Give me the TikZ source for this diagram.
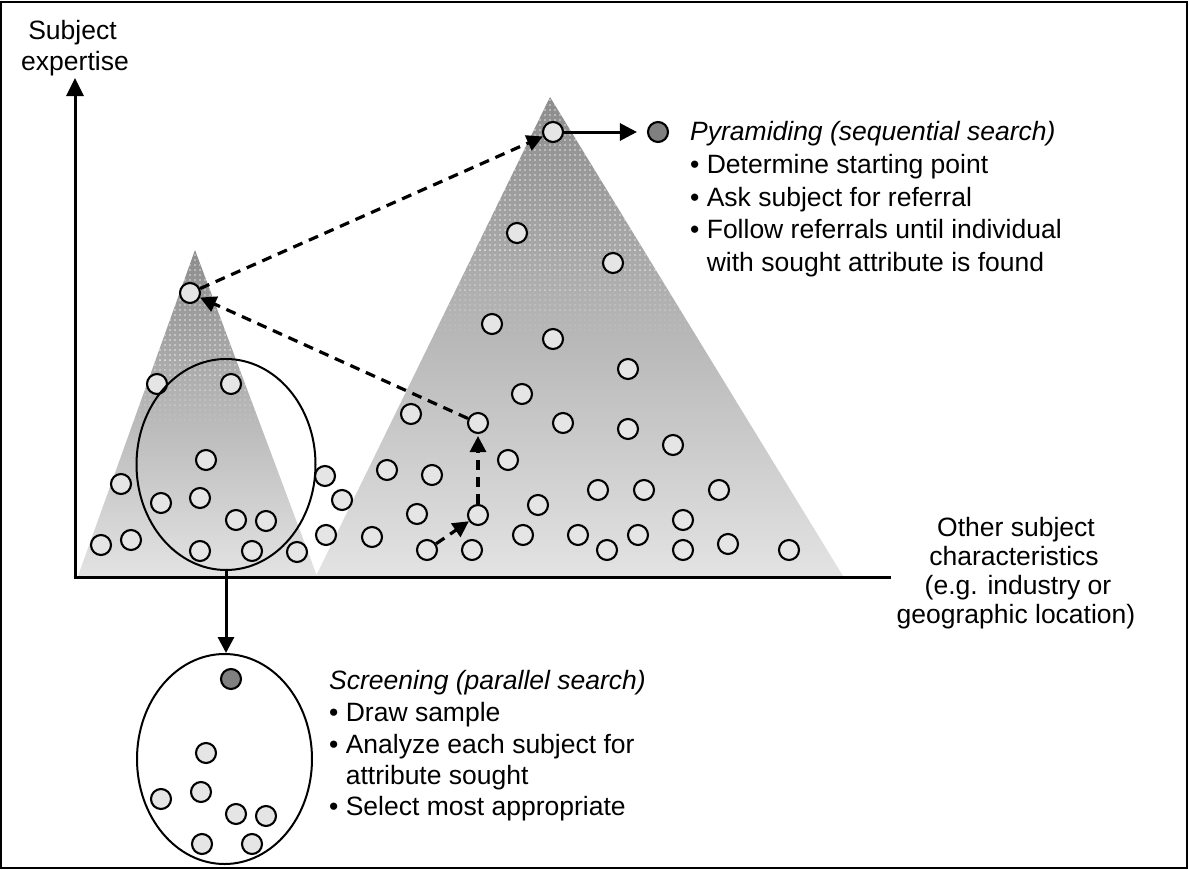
\documentclass[tikz,border=0pt]{standalone}
\usepackage{fontspec}
\setmainfont{Liberation Sans}
\usetikzlibrary{arrows.meta,shapes.geometric,patterns}
\pgfdeclarepatternformonly{wdots}{\pgfpoint{-1pt}{-1pt}}{\pgfpoint{1pt}{1pt}}{\pgfpoint{5pt}{5pt}}{\pgfpathcircle{\pgfpointorigin}{0.8pt}\pgfusepath{fill}}
\begin{document}
\begin{tikzpicture}[x=1pt,y=-1pt,
  sc/.style={circle,draw,line width=2.1pt,fill=black!10,minimum size=20pt,inner sep=0pt},
  dc/.style={sc,fill=black!50},
  ell/.style={ellipse,draw,line width=2pt,inner sep=0pt},
  dasharr/.style={line width=3.2pt,dash pattern=on 10pt off 7pt,-{Triangle[length=16pt,width=16pt]}},
  solarr/.style={line width=3pt,-{Triangle[length=17pt,width=17pt]}},
  axisline/.style={line width=3pt},
  dotband/.style={pattern=wdots,pattern color=white,opacity=#1},
  txt/.style={font=\fontsize{26.5pt}{30pt}\selectfont,inner sep=0pt,anchor=base west},
  ctxt/.style={txt,anchor=base}]
\useasboundingbox (0,0) rectangle (1189,870);
% pyramids
\shade[top color=black!45,bottom color=black!11] (78,576) -- (195,250) -- (317,576) -- cycle;
\shade[top color=black!45,bottom color=black!11] (316,576) -- (550,97) -- (843,576) -- cycle;
\begin{scope}
  \clip (78,576) -- (195,250) -- (317,576) -- cycle;
  \fill[dotband=0.75] (0,240) rectangle (400,360);
  \fill[dotband=0.6] (0,360) rectangle (400,375);
  \fill[dotband=0.45] (0,375) rectangle (400,390);
  \fill[dotband=0.3] (0,390) rectangle (400,405);
  \fill[dotband=0.15] (0,405) rectangle (400,420);
\end{scope}
\begin{scope}
  \clip (316,576) -- (550,97) -- (843,576) -- cycle;
  \fill[dotband=0.75] (300,90) rectangle (900,250);
  \fill[dotband=0.6] (300,250) rectangle (900,270);
  \fill[dotband=0.45] (300,270) rectangle (900,290);
  \fill[dotband=0.3] (300,290) rectangle (900,310);
  \fill[dotband=0.15] (300,310) rectangle (900,330);
\end{scope}
% axes
\coordinate (O) at (75,577);
\coordinate (Ytip) at (75,78);
\coordinate (Xend) at (891,577);
\draw[axisline,-{Triangle[length=18pt,width=17pt]}] (O) -- (Ytip);
\draw[axisline] ([xshift=-1.5pt]O) -- (Xend);
% small pyramid circles
\node[sc] (a1) at (190,293) {};
\node[sc] (a2) at (157,384) {};
\node[sc] (a3) at (231,384) {};
\node[sc] (a4) at (206,460) {};
\node[sc] (a5) at (121,484) {};
\node[sc] (a6) at (161,503) {};
\node[sc] (a7) at (200,498) {};
\node[sc] (a8) at (236,520) {};
\node[sc] (a9) at (266,521) {};
\node[sc] (a10) at (101,545) {};
\node[sc] (a11) at (131,540) {};
\node[sc] (a12) at (200,551) {};
\node[sc] (a13) at (252,551) {};
\node[sc] (a14) at (297,552) {};
% big pyramid circles
\node[sc] (b1) at (553,132) {};
\node[sc] (b2) at (517,233) {};
\node[sc] (b3) at (613,263) {};
\node[sc] (b4) at (492,324) {};
\node[sc] (b5) at (553,339) {};
\node[sc] (b6) at (628,369) {};
\node[sc] (b7) at (522,394) {};
\node[sc] (b8) at (411,414) {};
\node[sc] (b9) at (478,423) {};
\node[sc] (b10) at (563,423) {};
\node[sc] (b11) at (628,429) {};
\node[sc] (b12) at (673,445) {};
\node[sc] (b13) at (508,460) {};
\node[sc] (b14) at (325,476) {};
\node[sc] (b15) at (387,470) {};
\node[sc] (b16) at (432,475) {};
\node[sc] (b17) at (342,500) {};
\node[sc] (b18) at (598,490) {};
\node[sc] (b19) at (644,490) {};
\node[sc] (b20) at (719,490) {};
\node[sc] (b21) at (538,505) {};
\node[sc] (b22) at (417,514) {};
\node[sc] (b23) at (478,515) {};
\node[sc] (b24) at (683,520) {};
\node[sc] (b25) at (326,535) {};
\node[sc] (b26) at (372,537) {};
\node[sc] (b27) at (427,550) {};
\node[sc] (b28) at (472,550) {};
\node[sc] (b29) at (523,535) {};
\node[sc] (b30) at (578,535) {};
\node[sc] (b31) at (607,550) {};
\node[sc] (b32) at (638,535) {};
\node[sc] (b33) at (683,550) {};
\node[sc] (b34) at (728,544) {};
\node[sc] (b35) at (789,550) {};
\node[dc] (pd) at (658,132) {};
% selection ellipse
\node[ell,minimum width=179pt,minimum height=211pt] (sel) at (226,464.5) {};
% screening
\node[ell,minimum width=175pt,minimum height=210pt] (scr) at (224.5,759) {};
\node[dc] (sd) at (231,679) {};
\node[sc] (s1) at (206,753) {};
\node[sc] (s2) at (201,792) {};
\node[sc] (s3) at (161,799) {};
\node[sc] (s4) at (236,814) {};
\node[sc] (s5) at (266,816) {};
\node[sc] (s6) at (202,844) {};
\node[sc] (s7) at (252,844) {};
% arrows
\draw[dasharr] (a1) -- (b1);
\draw[dasharr] (b9) -- (a1);
\draw[dasharr,shorten >=2pt] (b23) -- (b9);
\draw[dasharr] (b27) -- (b23);
\draw[solarr,shorten >=10pt] (b1) -- (pd);
\draw[line width=3pt,-{Triangle[length=16pt,width=16pt]}] (sel.south) -- (sel.south |- scr.north);
% labels
\node[ctxt] (y1) at (72.5,39) {Subject};
\node[ctxt] (y2) at (75,70) {expertise};
\node[ctxt] (x1) at (1016,536) {Other subject};
\node[ctxt] (x2) at (1014,565) {characteristics};
\node[ctxt] (x3) at (1018,594) {(e.g. industry or};
\node[ctxt] (x4) at (1016,623) {geographic location)};
\node[txt] (p0) at (690,140.5) {\itshape Pyramiding (sequential search)};
\node[txt] (p1) at (690,173) {\textbullet\ Determine starting point};
\node[txt] (p2) at (690,206) {\textbullet\ Ask subject for referral};
\node[txt] (p3) at (690,238.5) {\textbullet\ Follow referrals until individual};
\node[txt] (p4) at (690,271) {\phantom{\textbullet\ }with sought attribute is found};
\node[txt] (q0) at (329,689) {\itshape Screening (parallel search)};
\node[txt] (q1) at (329,721.5) {\textbullet\ Draw sample};
\node[txt] (q2) at (329,753.5) {\textbullet\ Analyze each subject for};
\node[txt] (q3) at (329,784.5) {\phantom{\textbullet\ }attribute sought};
\node[txt] (q4) at (329,815) {\textbullet\ Select most appropriate};
% frame
\draw[line width=2pt] (1.2,1.5) rectangle (1186.8,867.8);
\end{tikzpicture}
\end{document}
